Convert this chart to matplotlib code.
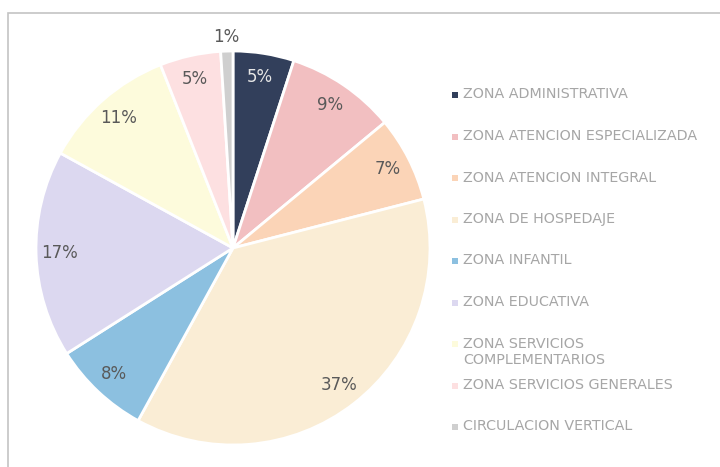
import matplotlib.pyplot as plt
import numpy as np
from matplotlib.patches import Rectangle

# distribución de áreas por zona (%)
zonas = ["ZONA ADMINISTRATIVA", "ZONA ATENCION ESPECIALIZADA", "ZONA ATENCION INTEGRAL",
         "ZONA DE HOSPEDAJE", "ZONA INFANTIL", "ZONA EDUCATIVA",
         "ZONA SERVICIOS\nCOMPLEMENTARIOS", "ZONA SERVICIOS GENERALES", "CIRCULACION VERTICAL"]
porcentajes = [5, 9, 7, 37, 8, 17, 11, 5, 1]
colores = ["#323f5b", "#f2bfc1", "#fbd4b7", "#faedd5", "#8cc0e0",
           "#dcd8f0", "#fdfbdc", "#fde0e1", "#cfcfcf"]

plt.rcParams["font.family"] = ["DejaVu Sans"]
fig = plt.figure(figsize=(7.2, 4.67), dpi=100)
W, H = 720, 467

# marco del gráfico (solo se ven borde izquierdo y superior)
fig.patches.append(Rectangle((8 / W, -0.1), 1.2, (H - 13) / H + 0.1, transform=fig.transFigure,
                             fill=False, edgecolor="#c4c4c4", linewidth=1.2))

cx, cy, r = 233, 248, 197
ax = fig.add_axes([(cx - r) / W, (H - cy - r) / H, 2 * r / W, 2 * r / H])
ax.pie(porcentajes, colors=colores, startangle=90, counterclock=False,
       wedgeprops=dict(edgecolor="white", linewidth=2))
ax.set_xlim(-1, 1)
ax.set_ylim(-1, 1)
ax.set_aspect("equal")
ax.axis("off")

# etiquetas de porcentaje
acum = 0
for i, v in enumerate(porcentajes):
    mid = 90 - (acum + v / 2) * 3.6
    acum += v
    d = 1.07 if v < 3 else 0.88
    col = "#e6e6e6" if i == 0 else "#595959"
    ax.text(d * np.cos(np.radians(mid)), d * np.sin(np.radians(mid)), f"{v}%",
            ha="center", va="center", fontsize=12, color=col, clip_on=False)

# leyenda
for i, (z, c) in enumerate(zip(zonas, colores)):
    yc = 95 + i * 41.5
    fig.patches.append(Rectangle((452 / W, (H - yc - 3) / H), 6 / W, 6 / H,
                                 transform=fig.transFigure, facecolor=c, edgecolor="none"))
    fig.text(463 / W, (H - yc + 7.5) / H, z, ha="left", va="top", fontsize=10.3,
             color="#a6a6a6", linespacing=1.2)

fig.savefig("out.png", dpi=100)
